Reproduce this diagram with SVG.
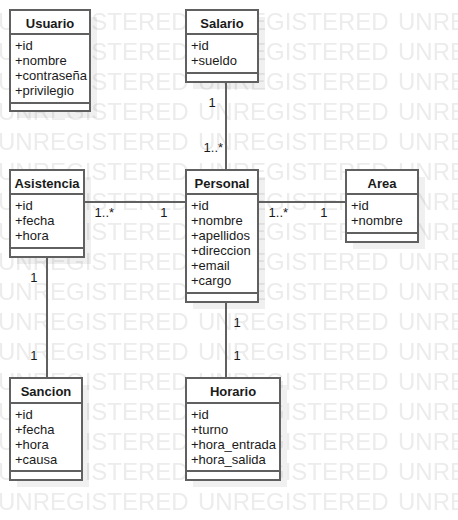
<svg xmlns="http://www.w3.org/2000/svg" width="458" height="520" viewBox="0 0 458 520">
<style>
.wm{font-family:"Liberation Sans",Arial,sans-serif;font-size:24px;fill:#ececec}
.box{fill:#fff;stroke:#606060;stroke-width:2}
.sep{stroke:#606060;stroke-width:2;fill:none}
.sh{fill:#000;fill-opacity:0.06}
.t{font-family:"Liberation Sans",Arial,sans-serif;font-size:13px;font-weight:bold;fill:#1a1a1a;text-anchor:middle}
.a{font-family:"Liberation Sans",Arial,sans-serif;font-size:13px;fill:#1a1a1a}
.ln{stroke:#606060;stroke-width:2;fill:none}
.lb{font-family:"Liberation Sans",Arial,sans-serif;font-size:13px;fill:#1a1a1a}
</style>
<defs>
<pattern id="wmp" patternUnits="userSpaceOnUse" x="-2" y="0" width="200" height="30">
<text class="wm" x="0" y="30">UNREGISTERED</text>
</pattern>
</defs>
<rect width="458" height="520" fill="#fff"/>
<rect width="458" height="520" fill="url(#wmp)"/>

<g id="Usuario">
<rect class="sh" x="17" y="17" width="80" height="101"/>
<rect class="box" x="10" y="10" width="80" height="101"/>
<line class="sep" x1="10" y1="34" x2="90" y2="34"/>
<line class="sep" x1="10" y1="103" x2="90" y2="103"/>
<text class="t" x="50" y="28">Usuario</text>
<text class="a" x="15" y="50">+id</text>
<text class="a" x="15" y="65">+nombre</text>
<text class="a" x="15" y="80">+contraseña</text>
<text class="a" x="15" y="95">+privilegio</text>
</g>

<g id="Salario">
<rect class="sh" x="193" y="17" width="72" height="72"/>
<rect class="box" x="186" y="10" width="72" height="72"/>
<line class="sep" x1="186" y1="34" x2="258" y2="34"/>
<line class="sep" x1="186" y1="73" x2="258" y2="73"/>
<text class="t" x="222" y="28">Salario</text>
<text class="a" x="191" y="50">+id</text>
<text class="a" x="191" y="65">+sueldo</text>
</g>

<g id="Asistencia">
<rect class="sh" x="17" y="177" width="74" height="87"/>
<rect class="box" x="10" y="170" width="74" height="87"/>
<line class="sep" x1="10" y1="194" x2="84" y2="194"/>
<line class="sep" x1="10" y1="248" x2="84" y2="248"/>
<text class="t" x="47" y="188">Asistencia</text>
<text class="a" x="15" y="210">+id</text>
<text class="a" x="15" y="225">+fecha</text>
<text class="a" x="15" y="240">+hora</text>
</g>

<g id="Personal">
<rect class="sh" x="193" y="177" width="72" height="132"/>
<rect class="box" x="186" y="170" width="72" height="132"/>
<line class="sep" x1="186" y1="194" x2="258" y2="194"/>
<line class="sep" x1="186" y1="293" x2="258" y2="293"/>
<text class="t" x="222" y="188">Personal</text>
<text class="a" x="191" y="210">+id</text>
<text class="a" x="191" y="225">+nombre</text>
<text class="a" x="191" y="240">+apellidos</text>
<text class="a" x="191" y="255">+direccion</text>
<text class="a" x="191" y="270">+email</text>
<text class="a" x="191" y="285">+cargo</text>
</g>

<g id="Area">
<rect class="sh" x="353" y="177" width="72" height="72"/>
<rect class="box" x="346" y="170" width="72" height="72"/>
<line class="sep" x1="346" y1="194" x2="418" y2="194"/>
<line class="sep" x1="346" y1="233" x2="418" y2="233"/>
<text class="t" x="382" y="188">Area</text>
<text class="a" x="351" y="210">+id</text>
<text class="a" x="351" y="225">+nombre</text>
</g>

<g id="Sancion">
<rect class="sh" x="17" y="385" width="72" height="102"/>
<rect class="box" x="10" y="378" width="72" height="102"/>
<line class="sep" x1="10" y1="403" x2="82" y2="403"/>
<line class="sep" x1="10" y1="471" x2="82" y2="471"/>
<text class="t" x="46" y="396">Sancion</text>
<text class="a" x="15" y="419">+id</text>
<text class="a" x="15" y="434">+fecha</text>
<text class="a" x="15" y="449">+hora</text>
<text class="a" x="15" y="464">+causa</text>
</g>

<g id="Horario">
<rect class="sh" x="193" y="385" width="94" height="102"/>
<rect class="box" x="186" y="378" width="94" height="102"/>
<line class="sep" x1="186" y1="403" x2="280" y2="403"/>
<line class="sep" x1="186" y1="471" x2="280" y2="471"/>
<text class="t" x="233" y="396">Horario</text>
<text class="a" x="191" y="419">+id</text>
<text class="a" x="191" y="434">+turno</text>
<text class="a" x="191" y="449">+hora_entrada</text>
<text class="a" x="191" y="464">+hora_salida</text>
</g>

<g id="connectors">
<line class="ln" x1="226" y1="82" x2="226" y2="170"/>
<line class="ln" x1="84" y1="202" x2="186" y2="202"/>
<line class="ln" x1="258" y1="202" x2="346" y2="202"/>
<line class="ln" x1="47" y1="257" x2="47" y2="378"/>
<line class="ln" x1="226" y1="302" x2="226" y2="378"/>
<text class="lb" x="208.6" y="107">1</text>
<text class="lb" x="203.6" y="152">1..*</text>
<text class="lb" x="94.6" y="217">1..*</text>
<text class="lb" x="160.3" y="217">1</text>
<text class="lb" x="268.6" y="217">1..*</text>
<text class="lb" x="320.3" y="217">1</text>
<text class="lb" x="30.3" y="282">1</text>
<text class="lb" x="30.3" y="360">1</text>
<text class="lb" x="233.6" y="327">1</text>
<text class="lb" x="233.6" y="360">1</text>
</g>
</svg>
